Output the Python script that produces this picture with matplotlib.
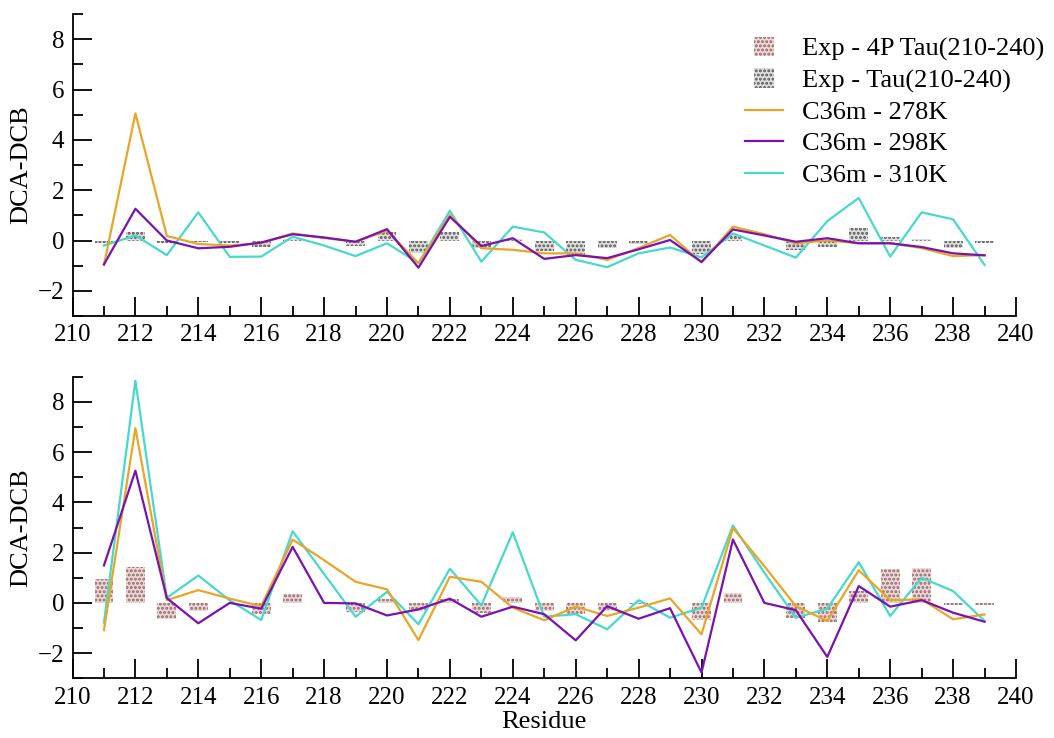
import numpy as np
import matplotlib
matplotlib.use("Agg")
import matplotlib.pyplot as plt
from matplotlib.patches import Rectangle
from matplotlib.lines import Line2D
from matplotlib.legend_handler import HandlerPatch
from matplotlib.ticker import MultipleLocator

plt.rcParams['font.family'] = ['Liberation Serif', 'DejaVu Serif']
plt.rcParams['hatch.linewidth'] = 1.4

residues = list(range(211, 240))

# ---- top panel ----
top_278 = [-0.97, 5.05, 0.18, -0.14, -0.2, -0.1, 0.28, 0.1, -0.05, 0.39,
           -0.9, 1.01, -0.31, -0.37, -0.51, -0.51, -0.77, -0.3, 0.22, -0.87,
           0.55, 0.25, -0.11, 0.0, -0.11, -0.11, -0.3, -0.62, -0.58]
top_298 = [-0.95, 1.26, 0.0, -0.31, -0.25, -0.08, 0.25, 0.12, -0.05, 0.45,
           -1.08, 0.94, -0.22, 0.09, -0.73, -0.58, -0.7, -0.35, 0.02, -0.85,
           0.44, 0.2, -0.05, 0.09, -0.11, -0.11, -0.26, -0.51, -0.59]
top_310 = [-0.2, 0.2, -0.58, 1.12, -0.65, -0.64, 0.15, -0.2, -0.62, -0.11,
           -0.9, 1.18, -0.84, 0.55, 0.32, -0.77, -1.06, -0.51, -0.28, -0.67,
           0.28, -0.2, -0.68, 0.77, 1.69, -0.64, 1.12, 0.84, -0.97]
top_exp_tau = [-0.1, 0.33, -0.1, -0.05, -0.1, -0.27, 0.05, 0.0, -0.2, 0.33,
               -0.5, 0.33, -0.3, 0.05, -0.42, -0.57, -0.31, -0.15, 0.0, -0.55,
               0.2, 0.0, -0.37, -0.27, 0.5, 0.15, 0.04, -0.3, -0.1]

# ---- bottom panel ----
bot_278 = [-1.08, 6.95, 0.11, 0.51, 0.17, -0.13, 2.52, 1.7, 0.84, 0.54,
           -1.48, 1.04, 0.84, -0.19, -0.69, -0.15, -0.52, -0.19, 0.18, -1.25,
           2.98, 1.46, -0.13, -0.72, 1.3, 0.11, 0.14, -0.65, -0.46]
bot_298 = [1.49, 5.26, 0.19, -0.81, 0.0, -0.23, 2.23, 0.0, -0.02, -0.5,
           -0.26, 0.17, -0.55, -0.15, -0.45, -1.49, -0.13, -0.63, -0.21, -2.77,
           2.52, 0.0, -0.29, -2.15, 0.67, -0.15, 0.11, -0.39, -0.75]
bot_310 = [-0.79, 8.84, 0.2, 1.09, 0.1, -0.68, 2.85, 1.15, -0.55, 0.44,
           -0.85, 1.36, -0.1, 2.81, -0.55, -0.45, -1.05, 0.11, -0.59, -0.19,
           3.08, 1.2, -0.59, -0.23, 1.62, -0.52, 1.0, 0.47, -0.72]
bot_exp_4p = [0.97, 1.42, -0.63, -0.33, 0.0, -0.46, 0.36, 0.0, -0.37, 0.16,
              -0.33, 0.16, -0.42, 0.24, -0.33, -0.46, -0.33, -0.05, 0.0, -0.69,
              0.4, 0.0, -0.6, -0.75, 0.47, 1.35, 1.39, -0.08, -0.08]

labels = ['Exp - 4P Tau(210-240)', 'Exp - Tau(210-240)',
          'C36m - 278K', 'C36m - 298K', 'C36m - 310K']

c278 = '#E8A526'
c298 = '#7A12B0'
c310 = '#48D8CC'
pink_face = '#F0D6D6'
pink_dot = '#8A6A6A'
grey_face = '#DEDEDE'
grey_dot = '#555555'

fig = plt.figure(figsize=(10.54, 7.38), dpi=100)
W, H = 1054, 738
L, R = 72.5, 1016
ax1 = fig.add_axes([L / W, 1 - 316 / H, (R - L) / W, (316 - 14) / H])
ax2 = fig.add_axes([L / W, 1 - 678.3 / H, (R - L) / W, (678.3 - 376.7) / H])

def style(ax):
    ax.set_xlim(210, 240)
    ax.set_ylim(-3, 9)
    for s in ['top', 'right']:
        ax.spines[s].set_visible(False)
    for s in ['left', 'bottom']:
        ax.spines[s].set_linewidth(1.3)
    ax.xaxis.set_major_locator(MultipleLocator(2))
    ax.xaxis.set_minor_locator(MultipleLocator(1))
    ax.yaxis.set_major_locator(MultipleLocator(2))
    ax.yaxis.set_minor_locator(MultipleLocator(1))
    ax.tick_params(which='major', direction='in', length=14, width=1.3,
                   labelsize=18)
    ax.tick_params(which='minor', direction='in', length=7, width=1.3)
    ax.tick_params(axis='x', which='major', pad=6)
    ax.tick_params(axis='y', which='major', pad=6)
    ax.set_ylabel('DCA-DCB', fontsize=19, labelpad=4)

bw = 0.6
ax1.bar(residues, top_exp_tau, width=bw, color=grey_face, edgecolor=grey_dot,
        linewidth=0, hatch='....', zorder=1)
ax1.plot(residues, top_278, color=c278, lw=1.6, zorder=3)
ax1.plot(residues, top_298, color=c298, lw=1.6, zorder=4)
ax1.plot(residues, top_310, color=c310, lw=1.6, zorder=2)

ax2.bar(residues, bot_exp_4p, width=bw, color=pink_face, edgecolor=pink_dot,
        linewidth=0, hatch='....', zorder=1)
ax2.plot(residues, bot_278, color=c278, lw=1.6, zorder=3)
ax2.plot(residues, bot_298, color=c298, lw=1.6, zorder=4)
ax2.plot(residues, bot_310, color=c310, lw=1.6, zorder=2)

style(ax1)
style(ax2)
ax2.set_xlabel('Residue', fontsize=19, labelpad=2)

# legend
def narrow_rect(legend, orig_handle, xdescent, ydescent, width, height, fontsize):
    w = width * 0.52
    h = height * 1.05
    return Rectangle((-xdescent + (width - w) / 2, -ydescent + (height - h) / 2), w, h)

h_pink = Rectangle((0, 0), 1, 1, facecolor=pink_face, edgecolor=pink_dot,
                   linewidth=0, hatch='....')
h_grey = Rectangle((0, 0), 1, 1, facecolor=grey_face, edgecolor=grey_dot,
                   linewidth=0, hatch='....')
h1 = Line2D([], [], color=c278, lw=1.6)
h2 = Line2D([], [], color=c298, lw=1.6)
h3 = Line2D([], [], color=c310, lw=1.6)
fig.legend([h_pink, h_grey, h1, h2, h3], labels, loc='upper left',
           bbox_to_anchor=(745 / W, 1 - 37 / H), frameon=False, fontsize=19,
           handlelength=1.45, handletextpad=0.72, labelspacing=0.3,
           borderpad=0, borderaxespad=0,
           handler_map={Rectangle: HandlerPatch(patch_func=narrow_rect)})

fig.savefig('out.png', dpi=100)
